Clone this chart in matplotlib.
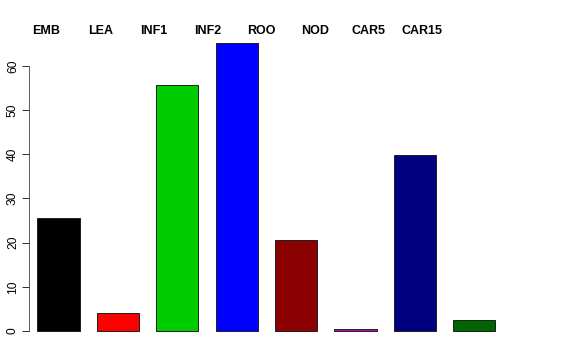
import matplotlib
matplotlib.use('Agg')
import matplotlib.pyplot as plt
from matplotlib.transforms import blended_transform_factory

categories = ['EMB', 'LEA', 'INF1', 'INF2', 'ROO', 'NOD', 'CAR5', 'CAR15']
values = [25.6, 4.0, 55.7, 65.2, 20.6, 0.5, 39.8, 2.5]
colors = ['#000000', '#FF0000', '#00CD00', '#0000FF', '#8B0000', '#CD00CD', '#000080', '#006400']
yticks = [0, 10, 20, 30, 40, 50, 60]

plt.rcParams['font.family'] = ['Liberation Sans', 'DejaVu Sans']

W, H = 576, 360
fig = plt.figure(figsize=(W / 72, H / 72), dpi=72)
# plot region in pixels: x 29..502, y 31.5..342.5
ax = fig.add_axes([29 / W, 1 - 342.5 / H, (502 - 29) / W, (342.5 - 31.5) / H])

x = list(range(len(categories)))
ax.bar(x, values, width=0.71, color=colors, edgecolor='#222222', linewidth=1)

ax.set_xlim(-0.497, 7.466)
ax.set_ylim(-2.6, 67.8)
for s in ['top', 'right', 'bottom']:
    ax.spines[s].set_visible(False)
ax.spines['left'].set_bounds(0, 60)
ax.spines['left'].set_color('#333333')
ax.set_xticks([])
ax.set_yticks(yticks)
ax.set_yticklabels([str(t) for t in yticks], rotation=90, va='center', fontsize=12)
ax.tick_params(axis='y', length=7, width=1, color='#333333', pad=3)

# category labels along the top (baseline ~34 px from top of figure)
trans = blended_transform_factory(ax.transData, fig.transFigure)
for i, name in enumerate(categories):
    ax.text(-0.202 + i * 0.904, 1 - 34 / H, name, transform=trans,
            fontsize=12.5, fontweight='bold', ha='center', va='baseline')

fig.savefig('out.png', dpi=72)
